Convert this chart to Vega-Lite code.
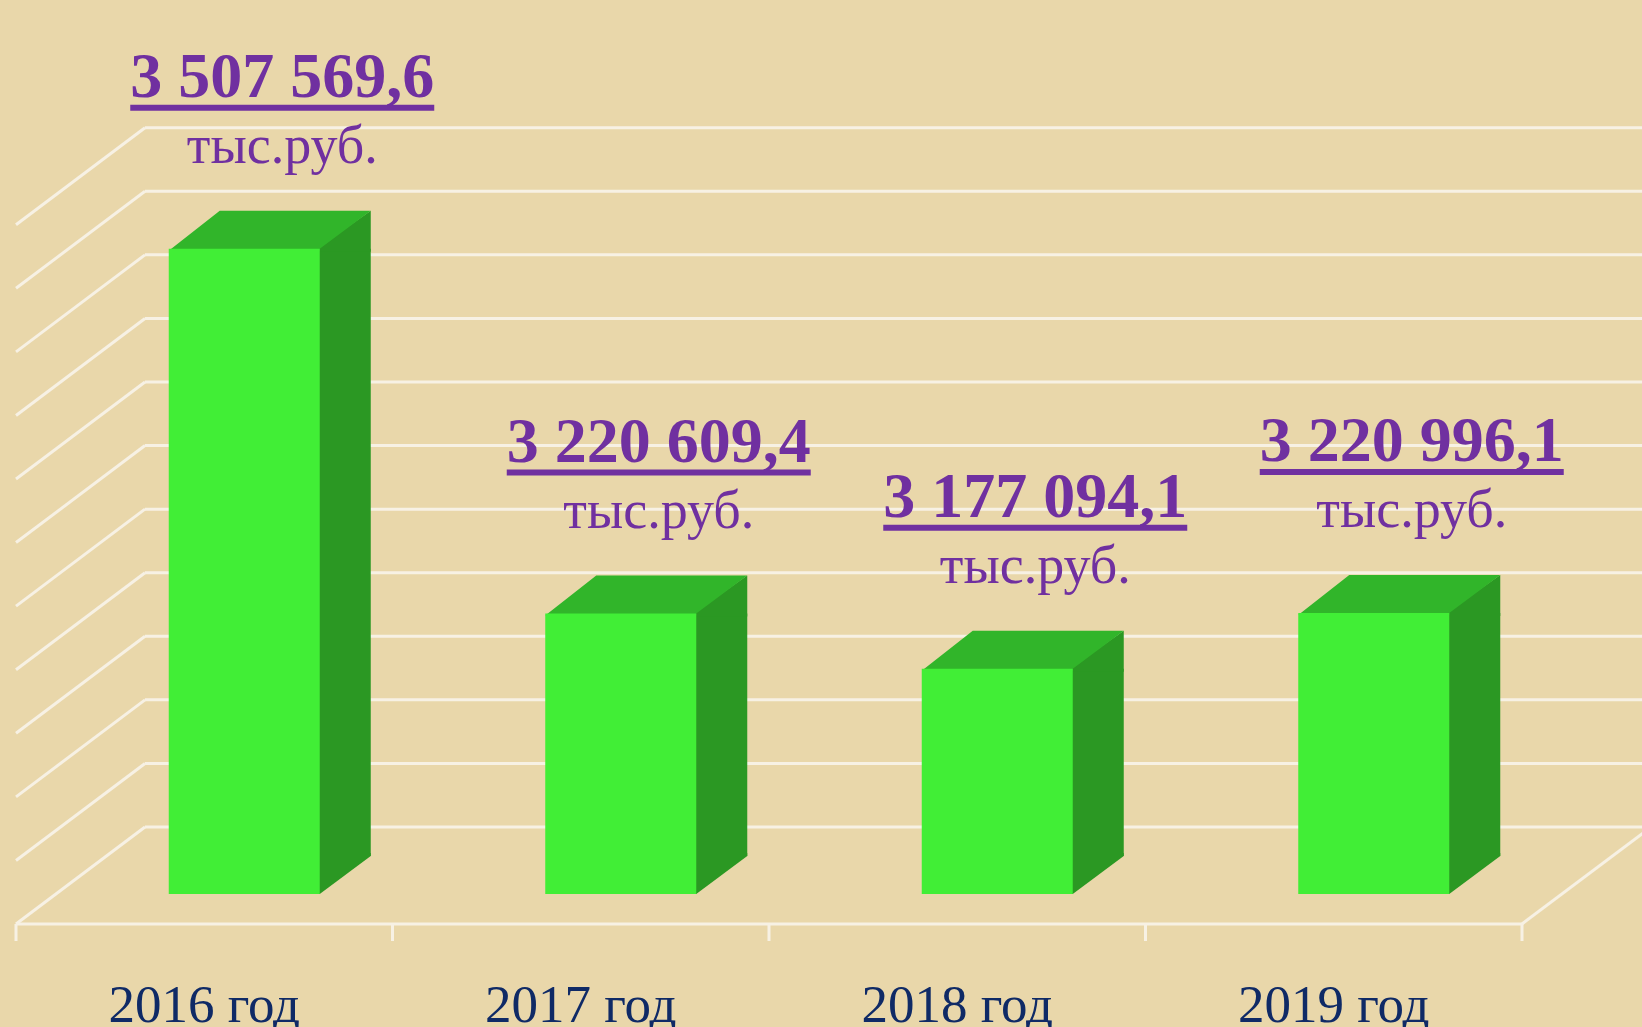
{
  "$schema": "https://vega.github.io/schema/vega-lite/v6.json",
  "autosize": {"type": "none"},
  "width": 1506,
  "height": 890,
  "padding": {"left": 56, "top": 4, "right": 80, "bottom": 133},
  "background": "#E9D7AA",
  "config": {
    "view": {"stroke": null},
    "locale": {"number": {"decimal": ",", "thousands": " ", "grouping": [3], "currency": ["", ""]}}
  },
  "datasets": {
    "bars": [
      {"year": "2016 год", "value": 3507569.6},
      {"year": "2017 год", "value": 3220609.4},
      {"year": "2018 год", "value": 3177094.1},
      {"year": "2019 год", "value": 3220996.1}
    ],
    "grid": [
      {"level": 3000000}, {"level": 3050000}, {"level": 3100000}, {"level": 3150000},
      {"level": 3200000}, {"level": 3250000}, {"level": 3300000}, {"level": 3350000},
      {"level": 3400000}, {"level": 3450000}, {"level": 3500000}, {"level": 3550000}
    ],
    "one": [{}]
  },
  "layer": [
    {
      "data": {"name": "grid"},
      "mark": {"type": "rule", "color": "#F7F1E4", "strokeWidth": 3, "xOffset": 89, "x2Offset": 89, "yOffset": -67},
      "encoding": {
        "x": {"datum": "2016 год", "type": "nominal", "bandPosition": 0,
              "scale": {"domain": ["2016 год", "2017 год", "2018 год", "2019 год"], "paddingInner": 0, "paddingOuter": 0},
              "axis": null},
        "x2": {"datum": "2019 год", "bandPosition": 1},
        "y": {"field": "level", "type": "quantitative",
              "scale": {"domain": [3000000, 3700000], "zero": false, "nice": false},
              "axis": null}
      }
    },
    {
      "data": {"name": "grid"},
      "mark": {"type": "rule", "color": "#F7F1E4", "strokeWidth": 3, "xOffset": -40, "x2Offset": 89, "yOffset": 30, "y2Offset": -67},
      "encoding": {
        "x": {"datum": "2016 год", "type": "nominal", "bandPosition": 0},
        "x2": {"datum": "2016 год", "bandPosition": 0},
        "y": {"field": "level", "type": "quantitative"},
        "y2": {"field": "level"}
      }
    },
    {
      "data": {"name": "one"},
      "mark": {"type": "rule", "color": "#F7F1E4", "strokeWidth": 3, "xOffset": -40, "x2Offset": -40, "yOffset": 30},
      "encoding": {
        "x": {"datum": "2016 год", "type": "nominal", "bandPosition": 0},
        "x2": {"datum": "2019 год", "bandPosition": 1},
        "y": {"datum": 3000000, "type": "quantitative"}
      }
    },
    {
      "data": {"name": "one"},
      "mark": {"type": "rule", "color": "#F7F1E4", "strokeWidth": 3, "xOffset": -40, "x2Offset": 89, "yOffset": 30, "y2Offset": -67},
      "encoding": {
        "x": {"datum": "2019 год", "type": "nominal", "bandPosition": 1},
        "x2": {"datum": "2019 год", "bandPosition": 1},
        "y": {"datum": 3000000, "type": "quantitative"},
        "y2": {"datum": 3000000}
      }
    },
    {
      "data": {"name": "bars"},
      "mark": {"type": "rule", "color": "#F7F1E4", "strokeWidth": 3, "xOffset": -40, "yOffset": 30, "y2Offset": 47},
      "encoding": {
        "x": {"field": "year", "type": "nominal", "bandPosition": 0},
        "y": {"datum": 3000000, "type": "quantitative"},
        "y2": {"datum": 3000000}
      }
    },
    {
      "data": {"name": "one"},
      "mark": {"type": "rule", "color": "#F7F1E4", "strokeWidth": 3, "xOffset": -40, "yOffset": 30, "y2Offset": 47},
      "encoding": {
        "x": {"datum": "2019 год", "type": "nominal", "bandPosition": 1},
        "y": {"datum": 3000000, "type": "quantitative"},
        "y2": {"datum": 3000000}
      }
    },
    {
      "data": {"name": "bars"},
      "mark": {"type": "bar", "width": 53, "xOffset": 100, "y2Offset": -38, "color": "#2B9823"},
      "encoding": {
        "x": {"field": "year", "type": "nominal"},
        "y": {"field": "value", "type": "quantitative"},
        "y2": {"datum": 3000000}
      }
    },
    {
      "data": {"name": "bars"},
      "mark": {"type": "point", "shape": "M74,0L74,-1L126.5,-38L126.5,3L74,3Z", "size": 4, "filled": true, "opacity": 1, "strokeWidth": 0, "color": "#2B9823"},
      "encoding": {
        "x": {"field": "year", "type": "nominal"},
        "y": {"field": "value", "type": "quantitative"}
      }
    },
    {
      "data": {"name": "bars"},
      "mark": {"type": "point", "shape": "M74,-41L126.5,-41L126.5,-38L75.5,0L74,0Z", "size": 4, "filled": true, "opacity": 1, "strokeWidth": 0, "color": "#2B9823"},
      "encoding": {
        "x": {"field": "year", "type": "nominal"},
        "y": {"datum": 3000000, "type": "quantitative"}
      }
    },
    {
      "data": {"name": "bars"},
      "mark": {"type": "point", "shape": "M-75.5,2L75.5,2L75.5,0L126.5,-38L-24.5,-38Z", "size": 4, "filled": true, "opacity": 1, "strokeWidth": 0, "color": "#31B52A"},
      "encoding": {
        "x": {"field": "year", "type": "nominal"},
        "y": {"field": "value", "type": "quantitative"}
      }
    },
    {
      "data": {"name": "bars"},
      "mark": {"type": "bar", "width": 151, "color": "#41EE36"},
      "encoding": {
        "x": {"field": "year", "type": "nominal"},
        "y": {"field": "value", "type": "quantitative"},
        "y2": {"datum": 3000000}
      }
    },
    {
      "data": {"name": "bars"},
      "mark": {"type": "tick", "orient": "horizontal", "size": 304, "thickness": 6, "color": "#7030A0", "opacity": 1, "xOffset": 38, "yOffset": -141},
      "encoding": {
        "x": {"field": "year", "type": "nominal"},
        "y": {"field": "value", "type": "quantitative"}
      }
    },
    {
      "data": {"name": "bars"},
      "mark": {"type": "text", "font": "Liberation Serif", "fontWeight": "bold", "fontSize": 64, "color": "#7030A0", "align": "center", "baseline": "alphabetic", "dx": 38, "dy": -152},
      "encoding": {
        "x": {"field": "year", "type": "nominal"},
        "y": {"field": "value", "type": "quantitative"},
        "text": {"field": "value", "type": "quantitative", "format": ",.1f"}
      }
    },
    {
      "data": {"name": "bars"},
      "mark": {"type": "text", "font": "Liberation Serif", "fontSize": 54, "color": "#7030A0", "align": "center", "baseline": "alphabetic", "dx": 38, "dy": -86},
      "encoding": {
        "x": {"field": "year", "type": "nominal"},
        "y": {"field": "value", "type": "quantitative"},
        "text": {"value": "тыс.руб."}
      }
    },
    {
      "data": {"name": "bars"},
      "mark": {"type": "text", "font": "Liberation Serif", "fontSize": 53, "color": "#0F2A66", "align": "center", "baseline": "alphabetic", "dx": -40, "dy": 128},
      "encoding": {
        "x": {"field": "year", "type": "nominal"},
        "y": {"datum": 3000000, "type": "quantitative"},
        "text": {"field": "year", "type": "nominal"}
      }
    }
  ]
}
